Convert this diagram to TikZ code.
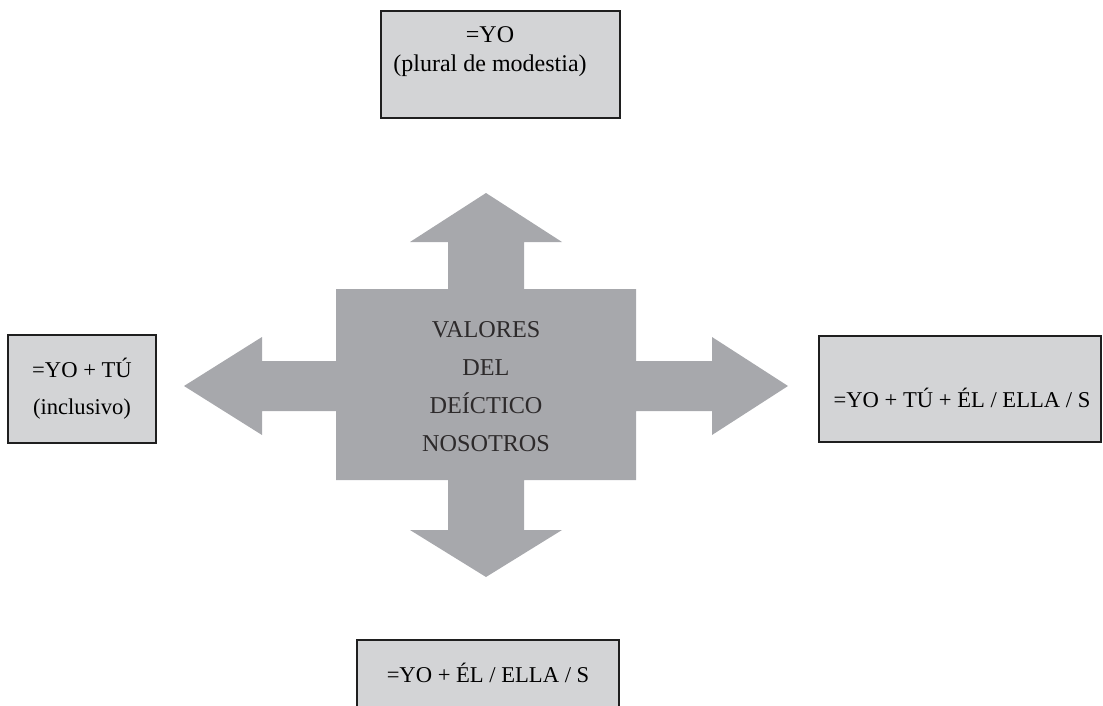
\documentclass[tikz,border=0pt]{standalone}
\usepackage{fontspec}
\setmainfont{Liberation Serif}
\definecolor{boxgray}{RGB}{211,212,214}
\definecolor{arrowgray}{RGB}{167,168,172}
\definecolor{inkgray}{RGB}{45,42,43}
\tikzset{
    valuebox/.style={draw=black!88, line width=1.3pt, fill=boxgray},
    valuetext/.style={align=center, inner sep=0pt, font=\fontsize{11.3}{14.5}\selectfont},
}
\begin{document}
\begin{tikzpicture}[x=0.5pt, y=-0.5pt]
    \useasboundingbox (0,0) rectangle (1103,706);
    % Draw the cross of four arrows
    \fill[arrowgray] (486,193) -- (562,242) -- (524,242) -- (524,289) -- (636,289)
        -- (636,361) -- (712,361) -- (712,337) -- (788,386) -- (712,435) -- (712,411)
        -- (636,411) -- (636,480) -- (524,480) -- (524,530) -- (562,530) -- (486,577)
        -- (410,530) -- (448,530) -- (448,480) -- (336,480) -- (336,411) -- (262,411)
        -- (262,435) -- (184,386) -- (262,337) -- (262,361) -- (336,361) -- (336,289)
        -- (448,289) -- (448,242) -- (410,242) -- cycle;
    \node[valuetext, text=inkgray, font=\fontsize{12.1}{19}\selectfont] (valores) at (486,387)
        {VALORES\\DEL\\DEÍCTICO\\NOSOTROS};
    % Draw the four boxes with their values
    \draw[valuebox] (381,11) rectangle (620,118);
    \node[valuetext, font=\fontsize{12}{14.5}\selectfont] (modestia) at (490,52) {=YO\\(plural de modestia)};
    \draw[valuebox] (8,335) rectangle (156,443);
    \node[valuetext, font=\fontsize{11.3}{18.5}\selectfont] (inclusivo) at (82,389) {=YO + TÚ\\(inclusivo)};
    \draw[valuebox] (819,336) rectangle (1101,442);
    \node[valuetext, anchor=base] (todos) at (962,407) {=YO + TÚ + ÉL / ELLA / S};
    \draw[valuebox] (357,640) rectangle (619,720);
    \node[valuetext, anchor=base] (exclusivo) at (488,682) {=YO + ÉL / ELLA / S};
\end{tikzpicture}
\end{document}
